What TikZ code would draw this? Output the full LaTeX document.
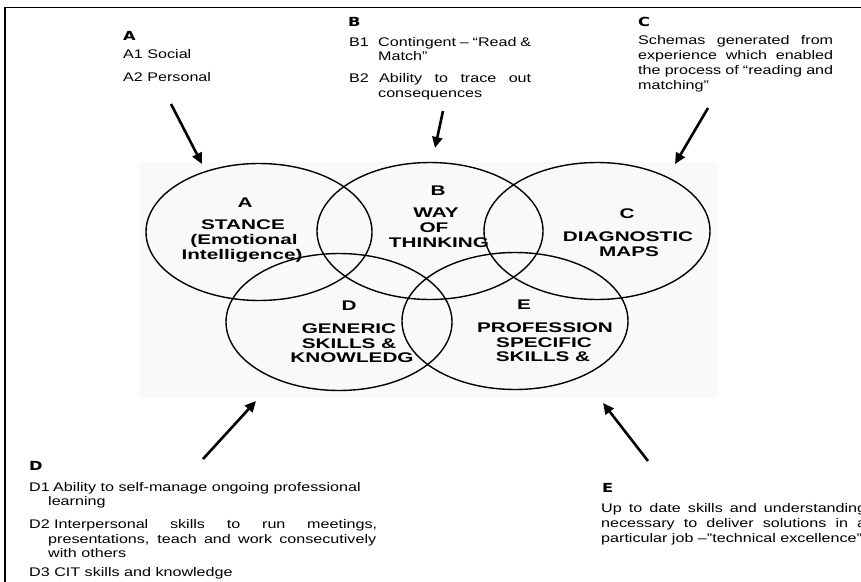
\documentclass[tikz,border=0pt]{standalone}
\usepackage{fontspec}
\setmainfont{Liberation Sans}
\newfontfamily\bodyf{Liberation Sans}[FakeStretch=1.29]
\newfontfamily\innerf{Liberation Sans}[FakeStretch=1.48]
\newfontfamily\headf{DejaVu Sans}[FakeStretch=1.3]
\usetikzlibrary{shapes.geometric,arrows.meta}
\definecolor{bgc}{RGB}{249,249,251}
\tikzset{
  venn/.style={ellipse, draw, line width=1.4pt, minimum width=226pt, minimum height=137pt, inner sep=0pt},
  inner/.style={anchor=base, inner sep=0pt, font=\innerf\bfseries\fontsize{14}{15}\selectfont},
  body/.style={anchor=base west, inner sep=0pt, font=\bodyf\fontsize{12.5}{15}\selectfont},
  head/.style={anchor=base west, inner sep=0pt, font=\headf\bfseries\fontsize{12.5}{13}\selectfont},
  pointer/.style={line width=2.6pt, -{Triangle[length=11pt,width=10pt]}},
}
\begin{document}
\begin{tikzpicture}[x=1pt,y=-1pt]
\useasboundingbox (0,0) rectangle (861,581);
\clip (0,0) rectangle (861,581);
% frame
\draw[line width=1.6pt] (5,582) -- (5,7.5) -- (862,7.5);
% background of the diagram
\fill[bgc] (140,162) rectangle (717,398);
% ellipses
\node[venn] (ea) at (259,232) {};
\node[venn] (eb) at (430,231) {};
\node[venn] (ec) at (597,231) {};
\node[venn] (ed) at (339,322) {};
\node[venn] (ee) at (515,321) {};
% inner texts
\node[inner] (ia0) at (245,207) {A};
\node[inner] (ia1) at (243,229) {STANCE};
\node[inner] (ia2) at (244,244) {(Emotional};
\node[inner] (ia3) at (242,259) {Intelligence)};
\node[inner] (ib0) at (438,195) {B};
\node[inner] (ib1) at (436,217) {WAY};
\node[inner] (ib2) at (434,232) {OF};
\node[inner] (ib3) at (439,247) {THINKING};
\node[inner] (ic0) at (627,218) {C};
\node[inner] (ic1) at (628,241) {DIAGNOSTIC};
\node[inner] (ic2) at (629,256) {MAPS};
\node[inner] (id0) at (349,310) {D};
\node[inner] (id1) at (349,333) {GENERIC};
\node[inner] (id2) at (349,348) {SKILLS \&};
\node[inner] (id3) at (352,362) {KNOWLEDG};
\node[inner] (ie0) at (524,309) {E};
\node[inner] (ie1) at (545,332) {PROFESSION};
\node[inner] (ie2) at (544,347) {SPECIFIC};
\node[inner] (ie3) at (543,361) {SKILLS \&};
% block A
\node[head] (ha) at (123,40) {A};
\node[body] (a1) at (123,58.7) {A1 Social};
\node[body] (a2) at (123,81.7) {A2 Personal};
% block B
\node[head] (hb) at (348,26) {B};
\node[body] (b1l) at (349,46) {B1};
\node[body] (b1a) at (378,46) {\makebox[153pt][s]{Contingent – “Read \&}};
\node[body] (b1b) at (378,60.5) {Match”};
\node[body] (b2l) at (349,82.7) {B2};
\node[body] (b2a) at (379,82.7) {\makebox[152pt][s]{Ability to trace out}};
\node[body] (b2b) at (378,97) {consequences};
% block C
\node[head] (hc) at (638,26) {C};
\node[body] (c1) at (638,44.3) {\makebox[195pt][s]{Schemas generated from}};
\node[body] (c2) at (638,59.3) {\makebox[195pt][s]{experience which enabled}};
\node[body] (c3) at (638,74.3) {\makebox[195pt][s]{the process of “reading and}};
\node[body] (c4) at (638,89.3) {matching”};
% block D
\node[head] (hd) at (29,470.7) {D};
\node[body] (d1l) at (29,491) {D1};
\node[body] (d1a) at (53,491) {Ability to self-manage ongoing professional};
\node[body] (d1b) at (48,505) {learning};
\node[body] (d2l) at (29,528.3) {D2};
\node[body] (d2a) at (54,528.3) {\makebox[323pt][s]{Interpersonal skills to run meetings,}};
\node[body] (d2b) at (48,543.3) {\makebox[328pt][s]{presentations, teach and work consecutively}};
\node[body] (d2c) at (48,557.3) {with others};
\node[body] (d3) at (29,576.7) {D3 CIT skills and knowledge};
% block E
\node[head] (he) at (602,492.7) {E};
\node[body] (e1) at (601,512.3) {\makebox[265pt][s]{Up to date skills and understanding}};
\node[body] (e2) at (601,527.3) {\makebox[265pt][s]{necessary to deliver solutions in a}};
\node[body] (e3) at (601,542) {particular job –”technical excellence”};
% arrows
\coordinate (ta) at (171,104); \coordinate (pa) at (202,164);
\coordinate (tb) at (443,111); \coordinate (pb) at (435,148);
\coordinate (tc) at (708,108); \coordinate (pc) at (675,164);
\coordinate (td) at (203,459); \coordinate (pd) at (256,401);
\coordinate (te) at (648,461); \coordinate (pe) at (603,403);
\draw[pointer] (ta) -- (pa);
\draw[pointer] (tb) -- (pb);
\draw[pointer] (tc) -- (pc);
\draw[pointer] (td) -- (pd);
\draw[pointer] (te) -- (pe);
\end{tikzpicture}
\end{document}
